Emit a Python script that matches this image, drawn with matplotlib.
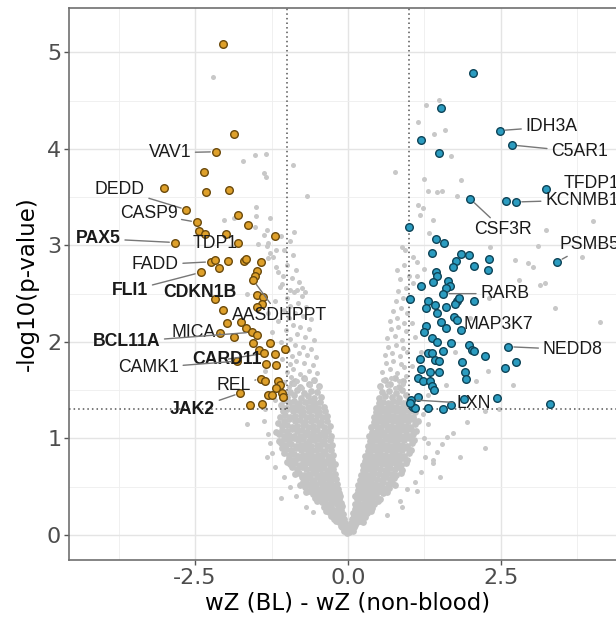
import matplotlib
matplotlib.use("Agg")
import matplotlib.pyplot as plt
import numpy as np

# background genes (not significant), dense V core
gray_core_left = [
    (-0.02, 0.02), (-0.04, 0.05), (-0.07, 0.04), (-0.03, 0.08), (-0.09, 0.08), (-0.06, 0.1), (-0.12, 0.09),
    (-0.05, 0.12), (-0.09, 0.11), (-0.14, 0.13), (-0.19, 0.14), (-0.07, 0.16), (-0.12, 0.17), (-0.17, 0.18),
    (-0.23, 0.17), (-0.27, 0.2), (-0.1, 0.19), (-0.21, 0.2),
    (-0.08, 0.22), (-0.13, 0.21), (-0.19, 0.23), (-0.25, 0.22), (-0.31, 0.24), (-0.36, 0.25), (-0.11, 0.26),
    (-0.17, 0.27), (-0.23, 0.26), (-0.29, 0.28), (-0.4, 0.29), (-0.1, 0.3), (-0.34, 0.3), (-0.15, 0.29), (-0.27, 0.3),
    (-0.12, 0.33), (-0.18, 0.32), (-0.24, 0.34), (-0.3, 0.32), (-0.37, 0.33), (-0.43, 0.34), (-0.5, 0.35),
    (-0.15, 0.37), (-0.21, 0.38), (-0.28, 0.36), (-0.34, 0.38), (-0.41, 0.37), (-0.47, 0.39), (-0.54, 0.38),
    (-0.13, 0.4), (-0.25, 0.4), (-0.38, 0.41),
    (-0.15, 0.43), (-0.2, 0.42), (-0.27, 0.44), (-0.33, 0.42), (-0.39, 0.45), (-0.46, 0.43), (-0.52, 0.44),
    (-0.58, 0.42), (-0.64, 0.46), (-0.68, 0.44), (-0.17, 0.48), (-0.24, 0.47), (-0.3, 0.49), (-0.36, 0.48),
    (-0.43, 0.5), (-0.49, 0.47), (-0.55, 0.49), (-0.61, 0.5), (-0.7, 0.5),
    (-0.18, 0.53), (-0.24, 0.52), (-0.31, 0.54), (-0.38, 0.53), (-0.45, 0.55), (-0.52, 0.52), (-0.59, 0.54),
    (-0.66, 0.53), (-0.73, 0.55), (-0.79, 0.52), (-0.2, 0.58), (-0.27, 0.57), (-0.34, 0.59), (-0.41, 0.58),
    (-0.48, 0.6), (-0.55, 0.57), (-0.62, 0.59), (-0.69, 0.58), (-0.76, 0.6),
    (-0.21, 0.63), (-0.28, 0.62), (-0.35, 0.64), (-0.42, 0.63), (-0.5, 0.62), (-0.57, 0.64), (-0.64, 0.63),
    (-0.72, 0.62), (-0.8, 0.64), (-0.87, 0.63), (-0.24, 0.68), (-0.31, 0.67), (-0.39, 0.69), (-0.46, 0.68),
    (-0.53, 0.67), (-0.6, 0.69), (-0.68, 0.68), (-0.76, 0.7), (-0.84, 0.68), (-0.91, 0.7),
    (-0.22, 0.73), (-0.3, 0.72), (-0.38, 0.74), (-0.46, 0.73), (-0.54, 0.72), (-0.62, 0.74), (-0.7, 0.73),
    (-0.78, 0.72), (-0.86, 0.74), (-0.94, 0.73), (-0.99, 0.76), (-0.26, 0.78), (-0.34, 0.77), (-0.42, 0.79),
    (-0.5, 0.78), (-0.58, 0.77), (-0.66, 0.79), (-0.74, 0.78), (-0.82, 0.8), (-0.9, 0.78), (-0.97, 0.8),
    (-0.24, 0.83), (-0.33, 0.82), (-0.41, 0.84), (-0.49, 0.83), (-0.57, 0.82), (-0.65, 0.84), (-0.73, 0.83),
    (-0.81, 0.82), (-0.89, 0.84), (-0.97, 0.83), (-1.05, 0.85), (-0.28, 0.88), (-0.37, 0.87), (-0.45, 0.89),
    (-0.53, 0.88), (-0.61, 0.87), (-0.69, 0.89), (-0.77, 0.88), (-0.85, 0.9), (-0.93, 0.88), (-1.01, 0.89),
    (-1.08, 0.9),
    (-0.26, 0.93), (-0.34, 0.92), (-0.43, 0.94), (-0.51, 0.93), (-0.6, 0.92), (-0.68, 0.94), (-0.77, 0.93),
    (-0.85, 0.92), (-0.93, 0.94), (-1.01, 0.93), (-1.09, 0.95), (-0.3, 0.98), (-0.39, 0.97), (-0.47, 0.99),
    (-0.56, 0.98), (-0.64, 0.97), (-0.73, 0.99), (-0.81, 0.98), (-0.89, 1.0), (-0.97, 0.98), (-1.05, 0.99),
    (-1.13, 0.97),
    (-0.28, 1.03), (-0.37, 1.02), (-0.45, 1.04), (-0.54, 1.03), (-0.62, 1.02), (-0.71, 1.04), (-0.79, 1.03),
    (-0.88, 1.02), (-0.96, 1.04), (-1.04, 1.03), (-1.12, 1.05), (-0.32, 1.08), (-0.41, 1.07), (-0.5, 1.09),
    (-0.58, 1.08), (-0.67, 1.07), (-0.75, 1.09), (-0.84, 1.08), (-0.92, 1.1), (-1.0, 1.08), (-1.08, 1.09),
    (-1.17, 1.07),
    (-0.3, 1.13), (-0.39, 1.12), (-0.48, 1.14), (-0.57, 1.13), (-0.65, 1.12), (-0.74, 1.14), (-0.83, 1.13),
    (-0.91, 1.12), (-1.0, 1.14), (-1.08, 1.13), (-0.35, 1.18), (-0.44, 1.17), (-0.53, 1.19), (-0.61, 1.18),
    (-0.7, 1.17), (-0.79, 1.19), (-0.87, 1.18), (-0.96, 1.2), (-1.04, 1.18), (-1.14, 1.16),
    (-0.34, 1.23), (-0.43, 1.22), (-0.51, 1.24), (-0.6, 1.23), (-0.68, 1.22), (-0.77, 1.24), (-0.86, 1.23),
    (-0.94, 1.22), (-1.03, 1.24), (-1.11, 1.22), (-0.38, 1.28), (-0.47, 1.27), (-0.56, 1.29), (-0.64, 1.28),
    (-0.73, 1.27), (-0.82, 1.29), (-0.9, 1.28), (-0.99, 1.3), (-1.07, 1.28),
    (-0.4, 1.33), (-0.49, 1.32), (-0.58, 1.34), (-0.66, 1.33), (-0.75, 1.32), (-0.84, 1.34), (-0.92, 1.33),
    (-1.01, 1.32), (-1.09, 1.35), (-0.45, 1.38), (-0.54, 1.37), (-0.62, 1.39), (-0.71, 1.38), (-0.8, 1.37),
    (-0.88, 1.39), (-0.97, 1.38), (-1.05, 1.4),
    (-0.44, 1.43), (-0.55, 1.42), (-0.66, 1.44), (-0.77, 1.42), (-0.88, 1.45), (-0.99, 1.43), (-0.5, 1.48),
    (-0.61, 1.49), (-0.72, 1.47), (-0.83, 1.5), (-0.94, 1.48),
    (-0.47, 1.54), (-0.63, 1.56), (-0.79, 1.53), (-0.92, 1.57), (-0.55, 1.61), (-0.72, 1.63), (-0.86, 1.6),
]

gray_core_right = [
    (0.02, 0.03), (0.05, 0.05), (0.08, 0.04), (0.04, 0.08), (0.1, 0.08), (0.07, 0.1), (0.12, 0.1),
    (0.05, 0.12), (0.09, 0.11), (0.14, 0.13), (0.19, 0.14), (0.24, 0.13), (0.07, 0.17), (0.12, 0.16),
    (0.17, 0.18), (0.22, 0.17), (0.27, 0.19), (0.1, 0.2), (0.2, 0.2),
    (0.08, 0.23), (0.13, 0.22), (0.19, 0.24), (0.25, 0.22), (0.31, 0.23), (0.37, 0.25), (0.11, 0.27),
    (0.16, 0.26), (0.22, 0.28), (0.28, 0.27), (0.34, 0.29), (0.4, 0.28), (0.14, 0.3), (0.26, 0.3),
    (0.11, 0.32), (0.17, 0.33), (0.23, 0.32), (0.29, 0.34), (0.36, 0.33), (0.42, 0.32), (0.49, 0.35),
    (0.14, 0.37), (0.2, 0.38), (0.27, 0.36), (0.33, 0.38), (0.39, 0.37), (0.46, 0.39), (0.53, 0.37),
    (0.12, 0.4), (0.24, 0.4), (0.36, 0.41),
    (0.14, 0.42), (0.2, 0.43), (0.26, 0.42), (0.33, 0.44), (0.39, 0.43), (0.45, 0.42), (0.52, 0.45),
    (0.58, 0.43), (0.64, 0.44), (0.17, 0.47), (0.23, 0.48), (0.29, 0.47), (0.36, 0.49), (0.42, 0.48),
    (0.48, 0.47), (0.55, 0.5), (0.61, 0.48), (0.67, 0.49),
    (0.17, 0.52), (0.24, 0.53), (0.3, 0.52), (0.37, 0.54), (0.44, 0.53), (0.51, 0.52), (0.58, 0.55),
    (0.65, 0.53), (0.72, 0.54), (0.77, 0.52), (0.2, 0.57), (0.27, 0.58), (0.34, 0.57), (0.41, 0.59),
    (0.48, 0.58), (0.55, 0.57), (0.62, 0.6), (0.69, 0.58), (0.75, 0.59),
    (0.21, 0.62), (0.28, 0.63), (0.35, 0.62), (0.42, 0.64), (0.5, 0.63), (0.57, 0.62), (0.64, 0.64),
    (0.72, 0.63), (0.79, 0.62), (0.86, 0.64), (0.24, 0.67), (0.31, 0.68), (0.39, 0.67), (0.46, 0.69),
    (0.53, 0.68), (0.61, 0.67), (0.68, 0.69), (0.76, 0.68), (0.83, 0.7), (0.89, 0.67),
    (0.25, 0.72), (0.33, 0.73), (0.4, 0.72), (0.48, 0.74), (0.56, 0.73), (0.63, 0.72), (0.71, 0.74),
    (0.79, 0.73), (0.86, 0.72), (0.94, 0.75), (0.28, 0.77), (0.36, 0.78), (0.44, 0.77), (0.52, 0.79),
    (0.6, 0.78), (0.67, 0.77), (0.75, 0.79), (0.83, 0.78), (0.9, 0.8), (0.97, 0.78),
    (0.28, 0.82), (0.36, 0.83), (0.44, 0.82), (0.52, 0.84), (0.6, 0.83), (0.68, 0.82), (0.76, 0.84),
    (0.84, 0.83), (0.92, 0.82), (1.0, 0.85), (0.32, 0.87), (0.4, 0.88), (0.48, 0.87), (0.56, 0.89),
    (0.64, 0.88), (0.72, 0.87), (0.8, 0.89), (0.88, 0.88), (0.96, 0.9), (1.03, 0.88),
    (0.32, 0.92), (0.4, 0.93), (0.48, 0.92), (0.56, 0.94), (0.64, 0.93), (0.72, 0.92), (0.8, 0.94),
    (0.88, 0.93), (0.96, 0.92), (1.04, 0.95), (0.36, 0.97), (0.44, 0.98), (0.52, 0.97), (0.6, 0.99),
    (0.68, 0.98), (0.76, 0.97), (0.84, 0.99), (0.92, 0.98), (1.0, 1.0), (1.08, 0.98),
    (0.35, 1.02), (0.43, 1.03), (0.51, 1.02), (0.59, 1.04), (0.67, 1.03), (0.75, 1.02), (0.83, 1.04),
    (0.91, 1.03), (0.99, 1.02), (1.07, 1.05), (0.39, 1.07), (0.47, 1.08), (0.55, 1.07), (0.63, 1.09),
    (0.71, 1.08), (0.79, 1.07), (0.87, 1.09), (0.95, 1.08), (1.03, 1.1), (1.11, 1.08),
    (0.38, 1.12), (0.46, 1.13), (0.54, 1.12), (0.62, 1.14), (0.7, 1.13), (0.78, 1.12), (0.86, 1.14),
    (0.94, 1.13), (1.02, 1.12), (1.1, 1.15), (0.42, 1.17), (0.5, 1.18), (0.58, 1.17), (0.66, 1.19),
    (0.74, 1.18), (0.82, 1.17), (0.9, 1.19), (0.98, 1.18), (1.06, 1.2), (1.14, 1.18),
    (0.42, 1.22), (0.5, 1.23), (0.58, 1.22), (0.66, 1.24), (0.74, 1.23), (0.82, 1.22), (0.9, 1.24),
    (0.98, 1.23), (1.06, 1.22), (0.46, 1.27), (0.54, 1.28), (0.62, 1.27), (0.7, 1.29), (0.78, 1.28),
    (0.86, 1.27), (0.94, 1.29), (1.02, 1.28), (1.1, 1.27),
    (0.46, 1.32), (0.54, 1.33), (0.62, 1.32), (0.7, 1.34), (0.78, 1.33), (0.86, 1.32), (0.94, 1.34),
    (1.02, 1.33), (0.5, 1.37), (0.58, 1.38), (0.66, 1.37), (0.74, 1.39), (0.82, 1.38), (0.9, 1.37),
    (0.98, 1.39),
    (0.5, 1.42), (0.61, 1.44), (0.72, 1.43), (0.83, 1.42), (0.94, 1.45), (0.56, 1.48), (0.67, 1.49),
    (0.78, 1.47), (0.89, 1.5),
    (0.53, 1.54), (0.68, 1.56), (0.84, 1.53), (0.6, 1.61), (0.76, 1.63), (0.9, 1.6),
]

# scattered background genes
gray_sparse = [
    (-0.48, 1.53), (-0.62, 1.55), (-0.75, 1.52), (-0.88, 1.56), (-0.97, 1.53), (-0.55, 1.6), (-0.7, 1.62),
    (-0.83, 1.6), (-0.93, 1.64), (-1.05, 1.58), (-0.5, 1.68), (-0.64, 1.7), (-0.78, 1.67), (-0.9, 1.72),
    (-1.0, 1.69), (-0.58, 1.76), (-0.72, 1.78), (-0.85, 1.8), (-0.95, 1.77), (-0.53, 1.84), (-0.67, 1.86),
    (-0.8, 1.88), (-0.92, 1.85), (-1.08, 1.82), (-0.6, 1.93), (-0.74, 1.95), (-0.87, 1.97), (-0.98, 1.92),
    (-0.56, 2.02), (-0.7, 2.05), (-0.83, 2.08), (-0.95, 2.03), (-1.1, 2.0), (-0.64, 2.13), (-0.78, 2.15),
    (-0.9, 2.18), (-1.02, 2.12), (-0.6, 2.24), (-0.73, 2.27), (-0.86, 2.3), (-0.97, 2.25), (-1.15, 2.22),
    (-0.68, 2.36), (-0.82, 2.4), (-0.94, 2.37), (-1.05, 2.33), (-0.75, 2.48), (-0.88, 2.52), (-1.0, 2.45),
    (-1.2, 2.42), (-0.8, 2.62), (-0.92, 2.66), (-1.08, 2.6), (-0.85, 2.75), (-1.0, 2.8), (-1.15, 2.72),
    (-0.9, 2.9), (-1.05, 2.95), (-1.22, 2.88), (-0.95, 3.05), (-1.1, 3.1), (-1.3, 3.02),
    (-2.20, 4.75), (-1.52, 3.94), (-1.34, 3.95), (-1.72, 3.87), (-1.38, 3.75), (-1.34, 3.71), (-0.90, 3.83),
    (-0.67, 3.51), (-1.50, 3.40), (-2.03, 3.26), (-1.87, 3.28), (-1.50, 3.30), (-1.52, 3.19), (-1.33, 3.16),
    (-1.38, 3.11), (-1.47, 3.01), (-1.33, 2.99), (-1.27, 2.92), (-1.17, 2.78), (-1.06, 2.68), (-0.95, 2.54),
    (-1.27, 3.28), (-0.89, 3.14), (-1.17, 2.95), (-1.30, 2.87), (-1.11, 2.57), (-0.84, 2.54), (-0.76, 2.56),
    (-0.70, 2.52), (-1.3, 2.3), (-1.25, 2.1), (-1.35, 1.7), (-1.2, 1.4), (-1.9, 2.55), (-1.65, 2.5),
    (-1.65, 1.15), (-1.33, 0.81), (-1.25, 0.85), (-1.10, 0.38), (-0.85, 0.40), (-0.68, 0.29), (-0.57, 0.24),
    (-1.3, 1.05), (-1.28, 0.95), (-1.2, 0.7), (-1.05, 0.6), (-0.95, 0.5), (-1.38, 1.18), (-1.35, 1.3),
    (0.52, 1.53), (0.64, 1.55), (0.77, 1.52), (0.9, 1.56), (0.58, 1.61), (0.7, 1.63), (0.83, 1.6),
    (0.95, 1.65), (0.55, 1.69), (0.68, 1.72), (0.8, 1.68), (0.92, 1.74), (0.62, 1.78), (0.74, 1.8),
    (0.87, 1.77), (0.6, 1.86), (0.72, 1.88), (0.85, 1.85), (0.96, 1.9), (0.66, 1.95), (0.79, 1.97),
    (0.9, 1.94), (0.63, 2.04), (0.76, 2.06), (0.88, 2.02), (0.7, 2.13), (0.82, 2.15), (0.94, 2.11),
    (0.68, 2.22), (0.8, 2.25), (0.92, 2.2), (0.74, 2.32), (0.86, 2.35), (0.97, 2.3), (0.78, 2.42),
    (0.9, 2.45), (0.82, 2.53), (0.95, 2.56), (0.85, 2.65), (1.0, 2.68), (0.8, 2.75), (0.92, 2.8),
    (1.07, 2.88), (1.12, 2.83), (0.88, 2.98), (0.93, 2.95), (1.06, 2.61), (1.25, 2.76), (1.12, 2.68),
    (0.77, 3.76), (1.24, 3.69), (1.85, 3.68), (1.39, 3.26), (1.17, 3.31), (1.15, 3.42), (1.22, 3.39),
    (1.31, 3.56), (1.45, 3.55), (1.53, 3.56), (1.78, 3.51), (1.48, 4.51), (1.27, 4.45), (1.15, 4.28),
    (1.58, 4.20), (1.41, 4.15), (1.69, 3.93), (1.33, 3.13), (3.24, 3.16), (4.01, 3.25), (3.11, 2.99),
    (3.82, 2.88), (2.73, 2.85), (2.94, 2.82), (3.02, 2.78), (3.14, 2.59), (3.22, 2.61), (2.80, 2.64),
    (3.39, 2.35), (2.32, 2.98), (4.12, 2.21), (2.29, 1.70), (2.70, 1.55), (2.46, 1.30), (2.24, 1.28),
    (1.94, 1.17), (1.72, 1.06), (1.61, 1.01), (2.24, 0.90), (1.83, 0.81), (1.53, 0.94), (1.39, 0.78),
    (1.45, 0.86), (1.50, 0.60), (0.96, 0.48), (0.88, 0.29), (0.63, 0.21), (1.12, 0.45), (1.26, 0.81),
    (1.39, 0.74), (1.31, 0.95), (1.2, 0.65), (1.1, 0.55), (0.85, 0.35), (1.25, 1.0), (1.3, 1.15),
    (1.22, 1.25), (1.05, 2.2), (1.1, 2.05), (1.2, 1.9), (1.05, 1.75), (1.3, 1.45), (1.6, 1.55),
    (1.75, 1.9), (2.1, 1.6), (2.0, 2.25), (2.3, 2.45),
]

# genes higher in non-blood (orange) and in BL (blue)
orange_pts = [
    (-2.05, 5.09), (-1.87, 4.15), (-2.16, 3.97), (-2.35, 3.76), (-3.00, 3.59), (-2.32, 3.55), (-1.95, 3.57),
    (-2.64, 3.37), (-1.80, 3.31), (-2.47, 3.24), (-1.64, 3.21), (-2.43, 3.15), (-2.33, 3.12), (-2.00, 3.12),
    (-1.20, 3.10), (-2.83, 3.03), (-1.80, 3.02), (-2.24, 2.83), (-2.18, 2.85), (-1.96, 2.84), (-1.70, 2.84),
    (-1.66, 2.86), (-1.42, 2.83), (-2.11, 2.77), (-2.41, 2.72), (-1.49, 2.73), (-1.52, 2.68), (-1.55, 2.64),
    (-2.18, 2.44), (-1.48, 2.49), (-1.39, 2.47), (-1.40, 2.39), (-1.48, 2.36), (-2.05, 2.33),
    (-2.09, 2.09), (-1.98, 2.20), (-1.87, 2.05), (-1.75, 2.21), (-1.66, 2.14), (-1.57, 2.10), (-1.48, 2.07),
    (-1.55, 1.99), (-1.27, 1.99), (-1.45, 1.92), (-1.38, 1.88), (-1.19, 1.87), (-1.03, 1.93), (-1.82, 1.80),
    (-1.34, 1.77), (-1.17, 1.76), (-1.42, 1.62), (-1.36, 1.59), (-1.14, 1.60), (-1.11, 1.55), (-1.17, 1.52),
    (-1.76, 1.47), (-1.30, 1.45), (-1.25, 1.45), (-1.08, 1.47), (-1.06, 1.43), (-1.60, 1.35), (-1.41, 1.36),
]
blue_pts = [
    (2.05, 4.79), (1.52, 4.42), (2.48, 4.19), (1.19, 4.09), (2.68, 4.04), (1.49, 3.96), (3.23, 3.58),
    (2.00, 3.48), (2.58, 3.46), (2.75, 3.45), (1.00, 3.19), (1.44, 3.07), (1.57, 3.02), (3.42, 2.83),
    (1.37, 2.92), (1.85, 2.91), (1.97, 2.90), (2.30, 2.86), (1.76, 2.84), (1.72, 2.78), (2.06, 2.79),
    (2.28, 2.74), (1.44, 2.72), (1.45, 2.68), (1.39, 2.62), (1.63, 2.63), (1.66, 2.58), (1.60, 2.56),
    (1.20, 2.58), (1.56, 2.50), (1.01, 2.44), (1.30, 2.42), (1.27, 2.35), (1.43, 2.38), (1.60, 2.36),
    (1.78, 2.42), (1.75, 2.39), (1.82, 2.45), (2.06, 2.42), (1.45, 2.30), (1.27, 2.16), (1.24, 2.10),
    (1.52, 2.21), (1.60, 2.14), (1.73, 2.26), (1.78, 2.23), (1.85, 2.12), (1.37, 2.04), (1.46, 2.00),
    (1.68, 1.99), (1.97, 1.97), (2.02, 1.92), (2.06, 1.91), (2.62, 1.95), (1.30, 1.88), (1.37, 1.89),
    (1.55, 1.91), (1.17, 1.82), (1.42, 1.81), (1.48, 1.80), (1.86, 1.79), (2.24, 1.85), (2.75, 1.79),
    (2.57, 1.73), (1.20, 1.72), (1.34, 1.69), (1.49, 1.69), (1.91, 1.69), (1.93, 1.62), (1.15, 1.63),
    (1.23, 1.60), (1.34, 1.59), (1.38, 1.54), (1.41, 1.50), (1.03, 1.40), (1.15, 1.43), (1.90, 1.41),
    (2.44, 1.42), (1.68, 1.35), (3.30, 1.36), (1.07, 1.33), (1.09, 1.31), (1.31, 1.31), (1.55, 1.30),
    (1.01, 1.37),
]

# labelled genes: name, gene position
lab_genes = ["VAV1", "DEDD", "CASP9", "PAX5", "TDP1", "FADD", "FLI1", "CDKN1B", "AASDHPPT", "MICA",
             "BCL11A", "CARD11", "CAMK1", "REL", "JAK2",
             "IDH3A", "C5AR1", "TFDP1", "KCNMB1", "CSF3R", "PSMB5", "RARB", "MAP3K7", "NEDD8", "LXN"]
lab_pts = [(-2.16, 3.97), (-2.64, 3.37), (-2.47, 3.24), (-2.83, 3.03), (-1.80, 3.02), (-2.24, 2.83),
           (-2.41, 2.72), (-2.18, 2.44), (-1.55, 2.64), (-2.09, 2.09), (-1.57, 2.10), (-1.38, 1.88),
           (-1.82, 1.80), (-1.42, 1.62), (-1.76, 1.47),
           (2.48, 4.19), (2.68, 4.04), (3.23, 3.58), (2.75, 3.45), (2.00, 3.48), (3.42, 2.83), (1.56, 2.50),
           (1.73, 2.26), (2.62, 1.95), (1.03, 1.40)]
lab_bold = ["PAX5", "FLI1", "CDKN1B", "BCL11A", "CARD11", "JAK2"]

x_cut = 1.0
y_cut = -np.log10(0.05)

# label placement (text anchor, alignment, draw segment)
lab_layout = [
    (-2.91, 3.96, "center", True), (-3.73, 3.58, "center", True), (-3.26, 3.33, "center", True),
    (-4.08, 3.07, "center", True), (-2.17, 3.02, "center", False), (-3.15, 2.80, "center", True),
    (-3.56, 2.53, "center", True), (-2.42, 2.51, "center", False), (-1.12, 2.27, "center", True),
    (-2.53, 2.10, "center", True), (-3.62, 2.00, "center", True), (-1.98, 1.82, "center", True),
    (-3.26, 1.73, "center", True), (-1.87, 1.55, "center", True), (-2.54, 1.30, "center", True),
    (2.90, 4.23, "left", True), (3.32, 3.97, "left", True), (3.52, 3.64, "left", False),
    (3.22, 3.47, "left", True), (2.54, 3.16, "center", True), (3.45, 3.01, "left", True),
    (2.16, 2.50, "left", True), (1.88, 2.18, "left", False), (3.18, 1.92, "left", True),
    (1.78, 1.36, "left", True),
]

xmin, xmax = -4.56, 4.56
ymin, ymax = -0.26, 5.46

fig = plt.figure(figsize=(6.16, 6.24), dpi=100)
ax = fig.add_axes([69 / 616, 64 / 624, 558 / 616, 552 / 624])

gl = np.array(gray_core_left)
gr = np.array(gray_core_right)
gs = np.array(gray_sparse)
ax.scatter(gl[:, 0], gl[:, 1], s=24, color="#c4c4c4", linewidths=0, zorder=2)
ax.scatter(gr[:, 0], gr[:, 1], s=24, color="#c4c4c4", linewidths=0, zorder=2)
ax.scatter(gs[:, 0], gs[:, 1], s=13, color="#c8c8c8", linewidths=0, zorder=2)

ax.vlines([-x_cut, x_cut], y_cut, ymax, colors="#555555", linestyles=(0, (1, 2)), lw=1.1, zorder=3)
ax.hlines(y_cut, xmin, -x_cut, colors="#555555", linestyles=(0, (1, 2)), lw=1.1, zorder=3)
ax.hlines(y_cut, x_cut, xmax, colors="#555555", linestyles=(0, (1, 2)), lw=1.1, zorder=3)

op = np.array(orange_pts)
bp = np.array(blue_pts)
ax.scatter(op[:, 0], op[:, 1], s=30, color="#dea02a", edgecolors="#6b4a0c", linewidths=1.0, zorder=4)
ax.scatter(bp[:, 0], bp[:, 1], s=30, color="#2b9cc0", edgecolors="#0d4357", linewidths=1.0, zorder=4)

for gene, (px, py), (tx, ty, ha, seg) in zip(lab_genes, lab_pts, lab_layout):
    weight = "bold" if gene in lab_bold else "normal"
    arrow = dict(arrowstyle="-", color="#777777", lw=1.0, shrinkA=1, shrinkB=4) if seg else None
    ax.annotate(gene, xy=(px, py), xytext=(tx, ty), ha=ha, va="center", fontsize=12.7,
                family="Liberation Sans", fontweight=weight, color="#1a1a1a",
                arrowprops=arrow, zorder=5)

ax.set_xlim(xmin, xmax)
ax.set_ylim(ymin, ymax)
ax.set_xticks([-2.5, 0, 2.5])
ax.set_xticklabels(["-2.5", "0.0", "2.5"])
ax.set_xticks([-3.75, -1.25, 1.25, 3.75], minor=True)
ax.set_yticks([0, 1, 2, 3, 4, 5])
ax.set_yticklabels(["0", "1", "2", "3", "4", "5"])
ax.set_yticks([0.5, 1.5, 2.5, 3.5, 4.5], minor=True)
ax.tick_params(which="major", length=3.6, width=1, color="#555555", labelsize=16,
               labelcolor="#4d4d4d", pad=2)
ax.tick_params(which="minor", length=0)
ax.grid(which="major", color="#e4e4e4", lw=1.0)
ax.grid(which="minor", color="#eeeeee", lw=0.6)
ax.set_axisbelow(True)
for sp in ax.spines.values():
    sp.set_color("#6f6f6f")
    sp.set_linewidth(1.2)

ax.set_xlabel("wZ (BL) - wZ (non-blood)", fontsize=16.5, color="black", labelpad=3)
ax.set_ylabel("-log10(p-value)", fontsize=16.5, color="black", labelpad=6)

fig.savefig("out.png", dpi=100)
